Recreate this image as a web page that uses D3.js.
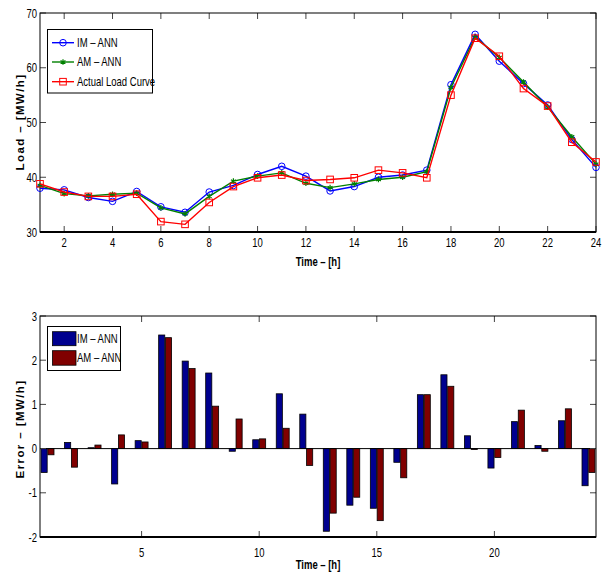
<!DOCTYPE html>
<html><head><meta charset="utf-8">
<script src="https://cdn.jsdelivr.net/npm/d3@7"></script>
<style>
html,body{margin:0;padding:0;background:#fff;}
svg{display:block;}
text{font-family:"Liberation Sans",Arial,Helvetica,sans-serif;}
</style>
</head><body>
<svg id="chart" width="607" height="575"></svg>
<script>
// ---------- data ----------
const hours = [1,2,3,4,5,6,7,8,9,10,11,12,13,14,15,16,17,18,19,20,21,22,23,24];
const imAnn  = [38.0,37.7,36.3,35.6,37.4,34.6,33.6,37.3,38.5,40.5,42.0,40.2,37.5,38.3,40.0,40.4,41.3,56.9,66.1,61.2,57.1,53.2,46.9,41.8];
const amAnn  = [38.5,37.0,36.6,36.9,37.1,34.4,33.3,36.5,39.3,40.2,40.8,38.9,38.1,38.8,39.6,40.0,41.0,56.4,65.6,61.9,57.4,52.8,47.4,42.4];
const actual = [38.8,37.3,36.5,36.5,36.9,31.9,31.4,35.4,38.3,39.9,40.4,39.4,39.6,39.9,41.3,40.8,39.9,55.0,65.4,62.1,56.2,53.0,46.4,42.8];
const errIm  = [-0.54,0.14,0.02,-0.80,0.18,2.57,1.98,1.71,-0.06,0.20,1.24,0.78,-1.87,-1.28,-1.35,-0.31,1.22,1.67,0.29,-0.44,0.61,0.07,0.63,-0.84];
const errAm  = [-0.14,-0.42,0.08,0.31,0.15,2.51,1.81,0.96,0.67,0.22,0.46,-0.38,-1.46,-1.10,-1.63,-0.66,1.22,1.41,-0.02,-0.20,0.87,-0.06,0.90,-0.54];
const topXTicks = [2,4,6,8,10,12,14,16,18,20,22,24];
const topYTicks = [30,40,50,60,70];
const botXTicks = [5,10,15,20];
const botYTicks = [-2,-1,0,1,2,3];
const lineNames = ["IM \u2013 ANN","AM \u2013 ANN","Actual Load Curve"];
const barNames = ["IM \u2013 ANN","AM \u2013 ANN"];
const xLabel = "Time \u2013 [h]";
const yLabelTop = "Load \u2013 [MW/h]";
const yLabelBot = "Error \u2013 [MW/h]";

const svg = d3.select("#chart");
svg.append("rect").attr("width",607).attr("height",575).attr("fill","#fff");

const L = 40, R = 596;
const tickLen = 6;
const NS = 0.76; // horizontal condensation of the narrow font

function ntext(g, x, y, str, anchor, size, bold) {
  return g.append("text")
    .attr("transform",`translate(${x},${y}) scale(${NS},1)`)
    .attr("text-anchor",anchor||"start")
    .attr("font-size",size||12)
    .attr("font-weight",bold?"bold":"normal")
    .text(str);
}

function frame(g, x, y, xt, yt, top, bot, xLabBase, titleBase) {
  xt.forEach(t => {
    g.append("line").attr("x1",x(t)).attr("x2",x(t)).attr("y1",bot).attr("y2",bot-tickLen).attr("stroke","#444").attr("stroke-width",1);
    g.append("line").attr("x1",x(t)).attr("x2",x(t)).attr("y1",top).attr("y2",top+tickLen).attr("stroke","#444").attr("stroke-width",1);
    ntext(g, x(t), xLabBase, t, "middle", 12.5);
  });
  yt.forEach(t => {
    g.append("line").attr("x1",L).attr("x2",L+tickLen).attr("y1",y(t)).attr("y2",y(t)).attr("stroke","#444").attr("stroke-width",1);
    g.append("line").attr("x1",R).attr("x2",R-tickLen).attr("y1",y(t)).attr("y2",y(t)).attr("stroke","#444").attr("stroke-width",1);
    ntext(g, L-3, y(t)+4.5, t, "end", 12.5);
  });
  g.append("rect").attr("x",L).attr("y",top).attr("width",R-L).attr("height",bot-top).attr("fill","none").attr("stroke","#000").attr("stroke-width",1);
  g.append("line").attr("x1",L).attr("x2",R).attr("y1",bot).attr("y2",bot).attr("stroke","#000").attr("stroke-width",2);
  ntext(g, 318, titleBase, xLabel, "middle", 12.5, true);
}

// ---------- top chart ----------
const gT = svg.append("g");
const xT = d3.scaleLinear().domain([1,24]).range([L,R]);
const yT = d3.scaleLinear().domain([30,70]).range([232,13]);
frame(gT, xT, yT, topXTicks, topYTicks, 13, 232, 247, 266);
gT.append("text").attr("transform","translate(24,122) rotate(-90)").attr("text-anchor","middle")
  .attr("font-size",11.5).attr("font-weight","bold").attr("letter-spacing",1.4).text(yLabelTop);

const series = [
  {vals: imAnn, color:"#0000ff", marker:"circle"},
  {vals: amAnn, color:"#008000", marker:"star"},
  {vals: actual, color:"#ff0000", marker:"square"}
];
const line = d3.line().x((d,i)=>xT(hours[i])).y(d=>yT(d));
function drawMarker(g, m, cx, cy, color) {
  if (m==="circle") g.append("circle").attr("cx",cx).attr("cy",cy).attr("r",3.3).attr("fill","none").attr("stroke",color).attr("stroke-width",1);
  else if (m==="square") g.append("rect").attr("x",cx-3.3).attr("y",cy-3.3).attr("width",6.6).attr("height",6.6).attr("fill","none").attr("stroke",color).attr("stroke-width",1);
  else g.append("path").attr("transform",`translate(${cx},${cy})`).attr("d",d3.symbol().type(d3.symbolAsterisk).size(22)()).attr("fill","none").attr("stroke",color).attr("stroke-width",1.2);
}
series.forEach(s => {
  gT.append("path").datum(s.vals).attr("d",line).attr("fill","none").attr("stroke",s.color).attr("stroke-width",1.4);
  s.vals.forEach((v,i)=>drawMarker(gT, s.marker, xT(hours[i]), yT(v), s.color));
});
// legend top
gT.append("rect").attr("x",47.5).attr("y",29.5).attr("width",105).attr("height",63.5).attr("fill","#fff").attr("stroke","#000").attr("stroke-width",1);
[42.7,62,81.7].forEach((yy,i)=>{
  const s = series[i];
  gT.append("line").attr("x1",52).attr("x2",74).attr("y1",yy).attr("y2",yy).attr("stroke",s.color).attr("stroke-width",1.4);
  drawMarker(gT, s.marker, 63, yy, s.color);
  ntext(gT, 77, yy+4.4, lineNames[i], "start", 12.5);
});

// ---------- bottom chart ----------
const gB = svg.append("g");
const xB = d3.scaleLinear().domain([0.68,24.32]).range([L,R]);
const yB = d3.scaleLinear().domain([-2,3]).range([537,316]);
const bw = 0.26, off = 0.145;
const barSets = [{vals: errIm, color:"#00008f", dx:-off},{vals: errAm, color:"#800000", dx:off}];
barSets.forEach(b=>{
  gB.selectAll(null).data(b.vals).enter().append("rect")
    .attr("x",(d,i)=>xB(hours[i]+b.dx-bw/2))
    .attr("width",xB(bw)-xB(0))
    .attr("y",d=>yB(Math.max(0,d)))
    .attr("height",d=>Math.abs(yB(d)-yB(0)))
    .attr("fill",b.color).attr("stroke","#000").attr("stroke-width",0.8);
});
gB.append("line").attr("x1",L).attr("x2",R).attr("y1",yB(0)).attr("y2",yB(0)).attr("stroke","#000").attr("stroke-width",1);
frame(gB, xB, yB, botXTicks, botYTicks, 316, 537, 557, 569);
gB.append("text").attr("transform","translate(24,429) rotate(-90)").attr("text-anchor","middle")
  .attr("font-size",11.5).attr("font-weight","bold").attr("letter-spacing",1.4).text(yLabelBot);
// legend bottom
gB.append("rect").attr("x",47.5).attr("y",326.5).attr("width",73).attr("height",44).attr("fill","#fff").attr("stroke","#000").attr("stroke-width",1);
[[331.7,345.7],[350.7,365.2]].forEach((r,i)=>{
  gB.append("rect").attr("x",52.5).attr("y",r[0]).attr("width",23.5).attr("height",r[1]-r[0]).attr("fill",barSets[i].color).attr("stroke","#000").attr("stroke-width",0.8);
  ntext(gB, 77, (r[0]+r[1])/2+4.4, barNames[i], "start", 12.5);
});
</script>
</body></html>
